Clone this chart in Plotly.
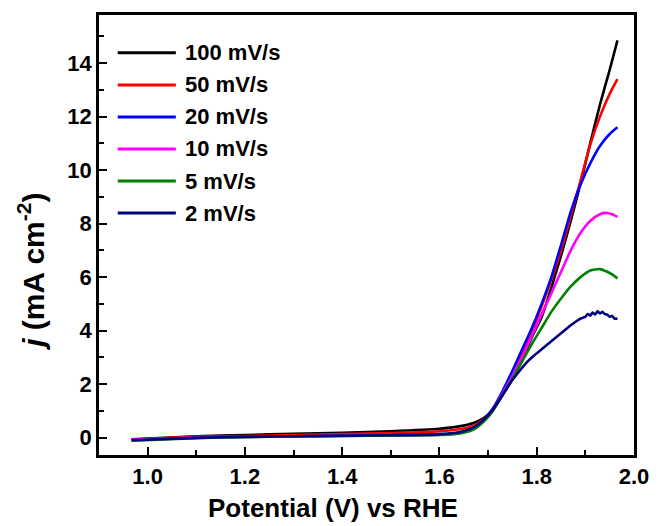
import plotly.graph_objects as go

# ---------------- data ----------------
series_names = ["100 mV/s", "50 mV/s", "20 mV/s", "10 mV/s", "5 mV/s", "2 mV/s"]
series_colors = ["#000000", "#FF0000", "#0000FF", "#FF00FF", "#008000", "#000080"]

potential_100 = [0.967, 1.1, 1.2, 1.3, 1.4, 1.5, 1.6, 1.64, 1.67, 1.69, 1.71, 1.73, 1.75, 1.77, 1.79, 1.81, 1.83, 1.85, 1.87, 1.89, 1.91, 1.93, 1.95, 1.966]
current_100 = [-0.06, 0.05, 0.10, 0.14, 0.18, 0.24, 0.33, 0.42, 0.55, 0.72, 1.05, 1.6, 2.2, 2.9, 3.75, 4.5, 5.6, 6.8, 8.1, 9.5, 11.0, 12.45, 13.75, 14.85]

potential_50 = [0.967, 1.1, 1.2, 1.3, 1.4, 1.5, 1.6, 1.64, 1.67, 1.69, 1.71, 1.73, 1.75, 1.77, 1.79, 1.81, 1.83, 1.85, 1.87, 1.89, 1.91, 1.93, 1.95, 1.966]
current_50 = [-0.07, 0.03, 0.06, 0.10, 0.13, 0.17, 0.24, 0.31, 0.45, 0.68, 1.05, 1.65, 2.35, 3.1, 3.95, 4.9, 5.9, 7.0, 8.3, 9.6, 10.95, 12.0, 12.85, 13.4]

potential_20 = [0.967, 1.1, 1.2, 1.3, 1.4, 1.5, 1.6, 1.64, 1.67, 1.69, 1.71, 1.73, 1.75, 1.77, 1.79, 1.81, 1.83, 1.85, 1.87, 1.89, 1.91, 1.93, 1.95, 1.966]
current_20 = [-0.08, 0.0, 0.03, 0.05, 0.07, 0.09, 0.12, 0.18, 0.35, 0.65, 1.1, 1.75, 2.5, 3.3, 4.1, 5.0, 6.0, 7.2, 8.45, 9.45, 10.25, 10.9, 11.35, 11.6]

potential_10 = [0.967, 1.1, 1.2, 1.3, 1.4, 1.5, 1.6, 1.64, 1.67, 1.69, 1.71, 1.73, 1.75, 1.77, 1.79, 1.81, 1.83, 1.85, 1.87, 1.89, 1.91, 1.93, 1.945, 1.955, 1.966]
current_10 = [-0.08, 0.0, 0.02, 0.04, 0.06, 0.08, 0.11, 0.17, 0.33, 0.62, 1.05, 1.65, 2.3, 3.0, 3.8, 4.6, 5.4, 6.2, 7.0, 7.65, 8.1, 8.35, 8.4, 8.35, 8.25]

potential_5 = [0.967, 1.1, 1.2, 1.3, 1.4, 1.5, 1.6, 1.64, 1.67, 1.69, 1.71, 1.73, 1.75, 1.77, 1.79, 1.81, 1.83, 1.85, 1.87, 1.89, 1.91, 1.93, 1.945, 1.955, 1.966]
current_5 = [-0.12, -0.02, 0.02, 0.04, 0.06, 0.08, 0.10, 0.15, 0.30, 0.58, 1.0, 1.6, 2.2, 2.85, 3.5, 4.1, 4.7, 5.2, 5.65, 6.0, 6.25, 6.3, 6.2, 6.1, 5.95]

potential_2 = [0.967, 1.1, 1.2, 1.3, 1.4, 1.5, 1.6, 1.64, 1.67, 1.69, 1.71, 1.73, 1.75, 1.765, 1.78, 1.795, 1.81, 1.83, 1.85, 1.87, 1.89, 1.90, 1.905, 1.91, 1.915, 1.92, 1.925, 1.93, 1.935, 1.94, 1.945, 1.95, 1.955, 1.96, 1.966]
current_2 = [-0.10, -0.01, 0.03, 0.05, 0.07, 0.09, 0.13, 0.20, 0.38, 0.65, 1.05, 1.6, 2.15, 2.5, 2.82, 3.08, 3.3, 3.6, 3.9, 4.2, 4.45, 4.52, 4.62, 4.56, 4.68, 4.6, 4.72, 4.64, 4.7, 4.62, 4.6, 4.52, 4.55, 4.45, 4.45]

x_series = [potential_100, potential_50, potential_20, potential_10, potential_5, potential_2]
y_series = [current_100, current_50, current_20, current_10, current_5, current_2]

x_tick_values = [1.0, 1.2, 1.4, 1.6, 1.8, 2.0]
x_tick_labels = ["1.0", "1.2", "1.4", "1.6", "1.8", "2.0"]
y_tick_values = [0, 2, 4, 6, 8, 10, 12, 14]
y_tick_labels = ["0", "2", "4", "6", "8", "10", "12", "14"]

x_title = "Potential (V) vs RHE"
y_title = "<i>j</i> (mA cm<sup>-2</sup>)"

# ---------------- figure ----------------
FONT = "Arial, Liberation Sans, Helvetica, sans-serif"
W, H = 661, 526
ML, MR, MT, MB = 99, 19, 13, 71
PW, PH = W - ML - MR, H - MT - MB

fig = go.Figure()
for name, color, xs, ys in zip(series_names, series_colors, x_series, y_series):
    fig.add_trace(go.Scatter(
        x=xs, y=ys, mode="lines", name=name, showlegend=False,
        line=dict(color=color, width=2.6, shape="spline", smoothing=0.6),
    ))

# hand-drawn legend (long line samples like the reference)
leg_top_px = 51
leg_step_px = 32.2
for i, (name, color) in enumerate(zip(series_names, series_colors)):
    ypx = leg_top_px + i * leg_step_px
    yp = (H - MB - ypx) / PH
    fig.add_shape(type="line", xref="paper", yref="paper",
                  x0=(118 - ML) / PW, x1=(177 - ML) / PW, y0=yp, y1=yp,
                  line=dict(color=color, width=3))
    fig.add_annotation(xref="paper", yref="paper", x=(184 - ML) / PW, y=yp,
                       text=name, showarrow=False, xanchor="left", yanchor="middle",
                       font=dict(family=FONT, size=22, color="black", weight="bold"))

# axis titles
fig.add_annotation(xref="paper", yref="paper", x=(336 - ML) / PW, y=(H - MB - 508) / PH,
                   text=x_title, showarrow=False, xanchor="center", yanchor="middle",
                   font=dict(family=FONT, size=26, color="black", weight="bold"))
fig.add_annotation(xref="paper", yref="paper", x=(30 - ML) / PW, y=(H - MB - 271) / PH,
                   text=y_title, showarrow=False, xanchor="center", yanchor="middle",
                   textangle=-90,
                   font=dict(family=FONT, size=30, color="black", weight="bold"))

axis_common = dict(
    showline=True, linecolor="black", linewidth=2.6, mirror=True,
    ticks="inside", ticklen=8, tickwidth=2.2, tickcolor="black",
    showgrid=False, zeroline=False,
    tickfont=dict(family=FONT, size=22, color="black", weight="bold"),
)

fig.update_xaxes(range=[0.9, 2.0], tickvals=x_tick_values, ticktext=x_tick_labels,
                 minor=dict(ticks="inside", ticklen=5, tickwidth=2, tickcolor="black",
                            dtick=0.1, tick0=0.9, showgrid=False),
                 **axis_common)
fig.update_yaxes(range=[-0.65, 15.8], tickvals=y_tick_values, ticktext=y_tick_labels,
                 minor=dict(ticks="inside", ticklen=5, tickwidth=2, tickcolor="black",
                            dtick=1, tick0=0, showgrid=False),
                 **axis_common)

fig.update_layout(
    width=W, height=H,
    margin=dict(l=ML, r=MR, t=MT, b=MB, pad=0),
    paper_bgcolor="white", plot_bgcolor="white",
    font=dict(family=FONT, color="black"),
)

fig.write_html("out.html", config={"displayModeBar": False},
               post_script="document.body.style.margin='0';document.body.style.padding='0';")
